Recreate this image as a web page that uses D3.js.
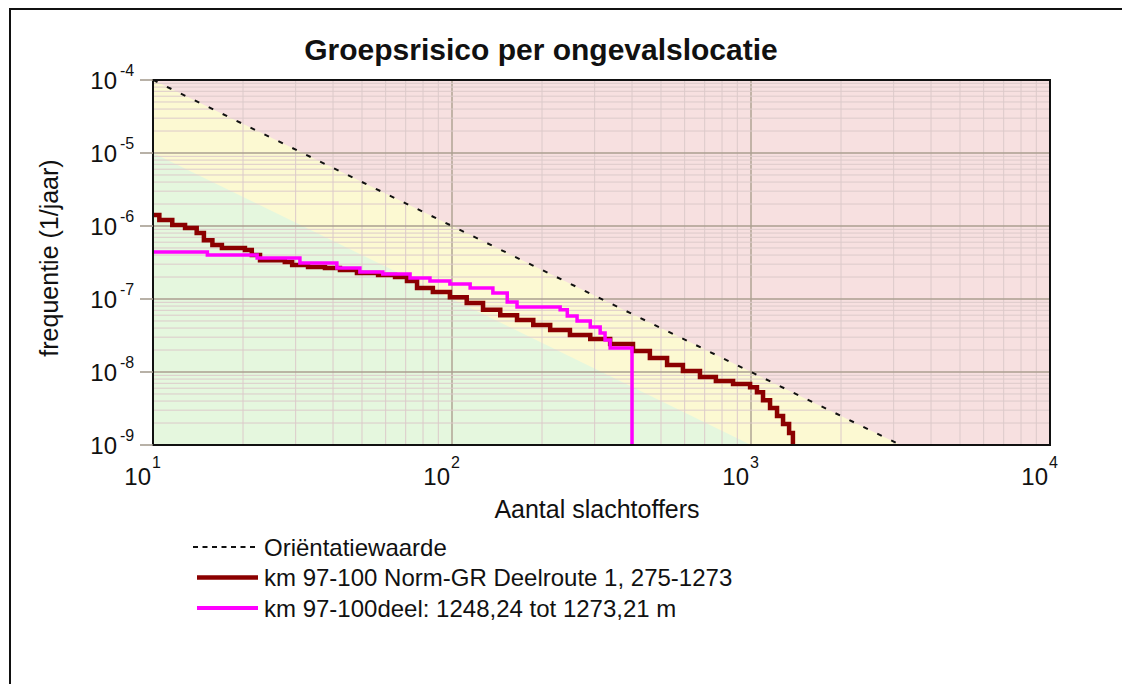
<!DOCTYPE html>
<html>
<head>
<meta charset="utf-8">
<script src="https://cdn.jsdelivr.net/npm/d3@7"></script>
<style>
  html, body { margin: 0; padding: 0; background: #fff; }
  svg { display: block; font-family: "Liberation Sans", Arial, sans-serif; }
</style>
</head>
<body>
<svg id="chart" width="1122" height="684"></svg>
<script>
// axis ticks (decades) and their exponent labels
var xTickValues = [10, 100, 1000, 10000];
var xTickExponents = ['1', '2', '3', '4'];
var yTickValues = [1e-4, 1e-5, 1e-6, 1e-7, 1e-8, 1e-9];
var yTickExponents = ['-4', '-5', '-6', '-7', '-8', '-9'];

// orientatiewaarde and the 0.1x boundary (end points)
var orientatieN = [10, 3162];
var orientatieF = [1e-4, 1e-9];
var groenGrensN = [10, 1000];
var groenGrensF = [1e-5, 1e-9];

// km 97-100 Norm-GR Deelroute 1, 275-1273
var normN = [10, 10.5, 11.6, 12.8, 14.0, 14.8, 15.8, 17.0, 20.3, 21.4, 22.8, 27.6, 29.2, 33, 37.6,
  42.2, 48.1, 56.6, 64.5, 70.7, 76.4, 86.3, 98.4, 112, 127, 145, 165, 187, 213, 248, 290, 338,
  403, 459, 524, 592, 675, 763, 871, 993, 1047, 1097, 1158, 1222, 1280, 1341, 1381];
var normF = [1.42e-6, 1.21e-6, 1.03e-6, 9.4e-7, 8.0e-7, 6.4e-7, 5.5e-7, 5.0e-7, 4.7e-7, 4.0e-7,
  3.4e-7, 3.2e-7, 2.92e-7, 2.74e-7, 2.66e-7, 2.5e-7, 2.27e-7, 2.13e-7, 2.0e-7, 1.77e-7, 1.42e-7,
  1.25e-7, 1.06e-7, 8.8e-8, 7.1e-8, 6.0e-8, 5.15e-8, 4.4e-8, 3.76e-8, 3.21e-8, 2.83e-8, 2.42e-8,
  1.94e-8, 1.56e-8, 1.25e-8, 1.03e-8, 8.55e-9, 7.5e-9, 6.86e-9, 6.2e-9, 5.3e-9, 4.1e-9, 3.2e-9,
  2.5e-9, 1.94e-9, 1.46e-9, 1e-10];

// km 97-100deel: 1248,24 tot 1273,21 m
var deelN = [10, 15.2, 22.3, 31, 41.2, 49.2, 58.7, 72.4, 84.4, 98.4, 115, 137, 153, 165, 230, 243,
  262, 290, 313, 325, 338, 400];
var deelF = [4.4e-7, 4.0e-7, 3.65e-7, 3.11e-7, 2.66e-7, 2.34e-7, 2.2e-7, 1.94e-7, 1.77e-7, 1.6e-7,
  1.42e-7, 1.21e-7, 9.1e-8, 7.8e-8, 7.1e-8, 5.85e-8, 5.0e-8, 4.13e-8, 3.42e-8, 2.74e-8, 2.13e-8, 1e-10];

var legendLabels = ['Oriëntatiewaarde', 'km 97-100 Norm-GR Deelroute 1, 275-1273',
  'km 97-100deel: 1248,24 tot 1273,21 m'];

(function () {
  'use strict';
  var svg = d3.select('#chart');
  var left = 153, right = 1050, top = 80, bottom = 445;

  var x = d3.scaleLog().domain([10, 10000]).range([left, right]);
  var y = d3.scaleLog().domain([1e-9, 1e-4]).range([bottom, top]);

  function zip(a, b) {
    return a.map(function (v, i) { return [v, b[i]]; });
  }

  // outer frame (only top and left visible)
  svg.append('path')
    .attr('d', 'M10,684V9H1122')
    .attr('fill', 'none').attr('stroke', '#111').attr('stroke-width', 2);

  svg.append('clipPath').attr('id', 'plotClip')
    .append('rect').attr('x', left).attr('y', top)
    .attr('width', right - left).attr('height', bottom - top);

  var plot = svg.append('g').attr('clip-path', 'url(#plotClip)');

  // background zones
  plot.append('rect').attr('x', left).attr('y', top)
    .attr('width', right - left).attr('height', bottom - top)
    .attr('fill', '#f7e0e0');

  var area = d3.line().x(function (d) { return x(d[0]); }).y(function (d) { return y(d[1]); });
  var yellow = zip(orientatieN, orientatieF);
  yellow.push([orientatieN[0], orientatieF[1]]);
  plot.append('path').attr('d', area(yellow) + 'Z').attr('fill', '#fcf9d2');
  var green = zip(groenGrensN, groenGrensF);
  green.push([groenGrensN[0], groenGrensF[1]]);
  plot.append('path').attr('d', area(green) + 'Z').attr('fill', '#e5f7de');

  // grid
  var xt = x.ticks(), yt = y.ticks();
  function isMajor(v) { return Math.abs(Math.log10(v) - Math.round(Math.log10(v))) < 1e-6; }

  plot.selectAll('.vgrid').data(xt).enter().append('line')
    .attr('x1', function (d) { return x(d); }).attr('x2', function (d) { return x(d); })
    .attr('y1', top).attr('y2', bottom)
    .attr('stroke', function (d) { return isMajor(d) ? '#b0a595' : '#dccaca'; })
    .attr('stroke-width', function (d) { return isMajor(d) ? 1.5 : 1; });

  plot.selectAll('.hgrid').data(yt).enter().append('line')
    .attr('y1', function (d) { return y(d); }).attr('y2', function (d) { return y(d); })
    .attr('x1', left).attr('x2', right)
    .attr('stroke', function (d) { return isMajor(d) ? '#ab9f90' : '#dccaca'; })
    .attr('stroke-width', function (d) { return isMajor(d) ? 1.5 : 1; });

  // orientatiewaarde
  plot.append('path').attr('d', area(zip(orientatieN, orientatieF)))
    .attr('fill', 'none').attr('stroke', '#111').attr('stroke-width', 2)
    .attr('stroke-dasharray', '5,10.5');

  var step = d3.line().curve(d3.curveStepAfter)
    .x(function (d) { return x(d[0]); }).y(function (d) { return y(d[1]); });

  plot.append('path').attr('d', step(zip(normN, normF)))
    .attr('fill', 'none').attr('stroke', '#8b0000').attr('stroke-width', 4.5);
  plot.append('path').attr('d', step(zip(deelN, deelF)))
    .attr('fill', 'none').attr('stroke', '#ff00ff').attr('stroke-width', 3.5);

  // plot border
  svg.append('rect').attr('x', left).attr('y', top)
    .attr('width', right - left).attr('height', bottom - top)
    .attr('fill', 'none').attr('stroke', '#111').attr('stroke-width', 2);

  // y ticks + labels
  yTickValues.forEach(function (v, i) {
    svg.append('line').attr('x1', 140).attr('x2', left).attr('y1', y(v)).attr('y2', y(v))
      .attr('stroke', '#a0978a').attr('stroke-width', 1.5);
    svg.append('text').attr('x', 117).attr('y', y(v) + 9)
      .attr('text-anchor', 'end').attr('font-size', 24).attr('fill', '#111').text('10');
    svg.append('text').attr('x', 120).attr('y', y(v) - 4)
      .attr('font-size', 16).attr('fill', '#111').text(yTickExponents[i]);
  });

  // x tick labels
  xTickValues.forEach(function (v, i) {
    svg.append('text').attr('x', x(v) - 2).attr('y', 485)
      .attr('text-anchor', 'end').attr('font-size', 24).attr('fill', '#111').text('10');
    svg.append('text').attr('x', x(v) - 1).attr('y', 468)
      .attr('font-size', 16).attr('fill', '#111').text(xTickExponents[i]);
  });

  // titles
  svg.append('text').attr('x', 541).attr('y', 60).attr('text-anchor', 'middle')
    .attr('font-size', 30).attr('font-weight', 'bold').attr('fill', '#111')
    .text('Groepsrisico per ongevalslocatie');
  svg.append('text').attr('x', 597).attr('y', 518).attr('text-anchor', 'middle')
    .attr('font-size', 25).attr('fill', '#111').text('Aantal slachtoffers');
  svg.append('text').attr('transform', 'translate(58,258) rotate(-90)')
    .attr('text-anchor', 'middle').attr('font-size', 25).attr('fill', '#111')
    .text('frequentie (1/jaar)');

  // legend
  var legendStyles = [
    { stroke: '#111', width: 2, dash: '5,4.5' },
    { stroke: '#8b0000', width: 4.5, dash: null },
    { stroke: '#ff00ff', width: 4, dash: null }
  ];
  legendLabels.forEach(function (label, i) {
    var ly = 547 + i * 30.5;
    var s = legendStyles[i];
    svg.append('line').attr('x1', i === 0 ? 193 : 197).attr('x2', 258).attr('y1', ly).attr('y2', ly)
      .attr('stroke', s.stroke).attr('stroke-width', s.width)
      .attr('stroke-dasharray', s.dash);
    svg.append('text').attr('x', 264).attr('y', ly + 8.5)
      .attr('font-size', 24).attr('fill', '#111').text(label);
  });
})();
</script>
</body>
</html>
